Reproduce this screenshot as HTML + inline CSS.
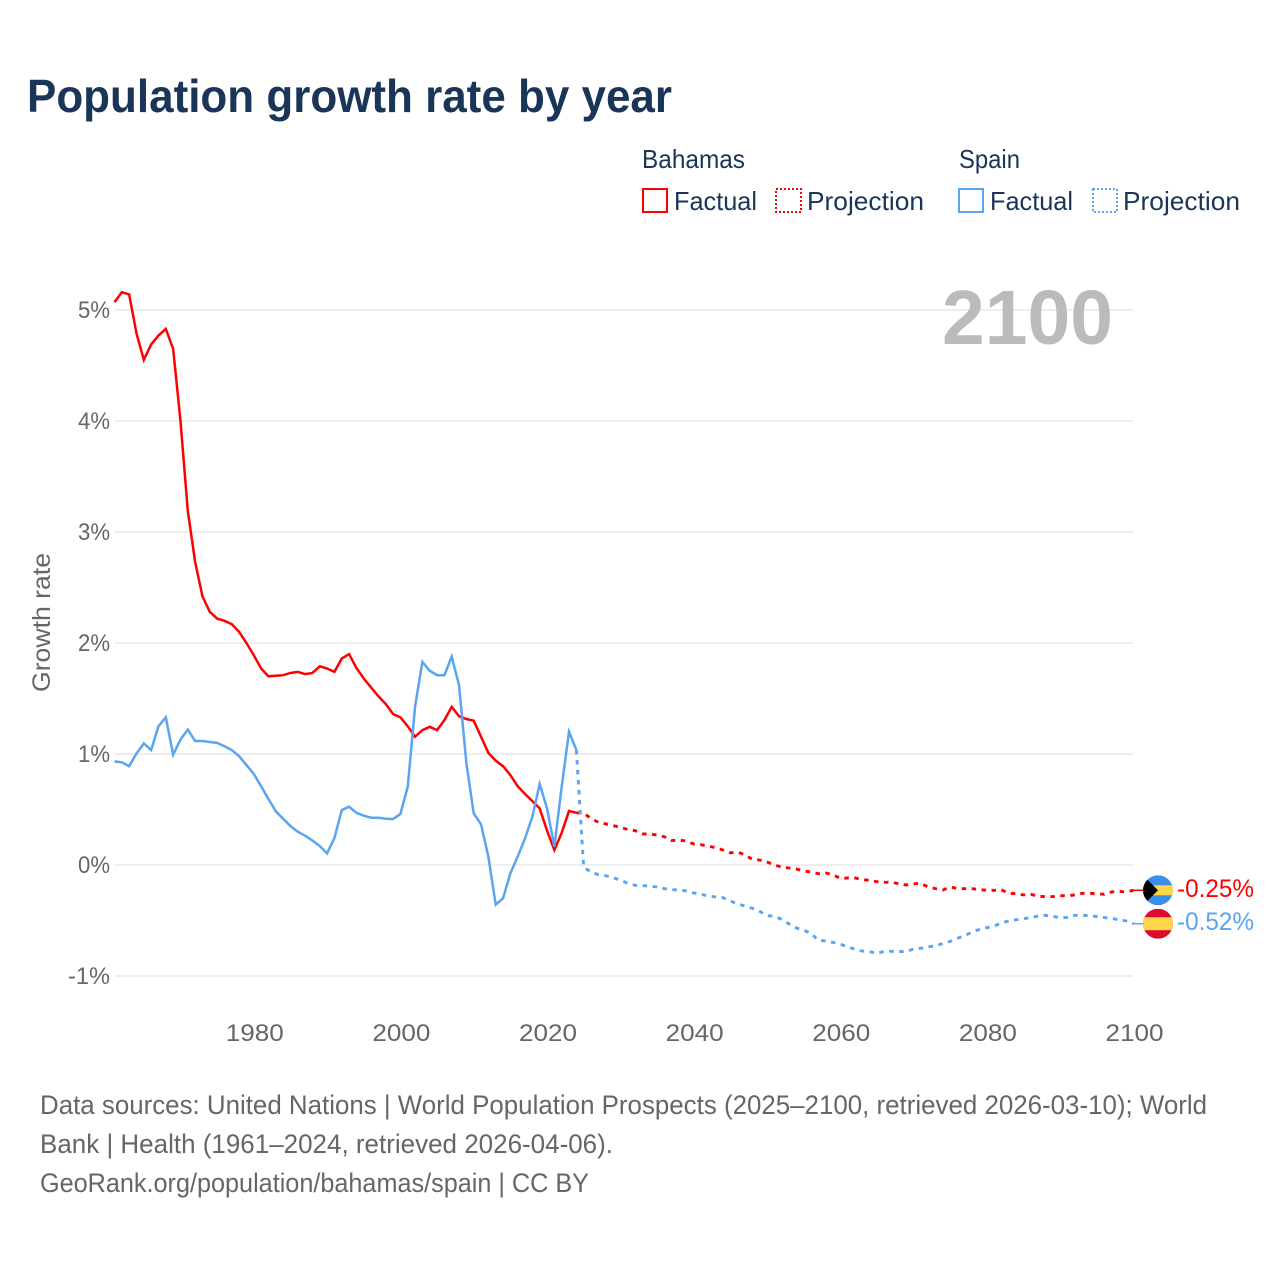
<!DOCTYPE html>
<html lang="en">
<head>
<meta charset="utf-8">
<title>Population growth rate by year</title>
<style>
html,body{margin:0;padding:0;background:#fff;width:1280px;height:1280px;overflow:hidden}
svg{display:block}
text{font-family:"Liberation Sans",sans-serif}
</style>
</head>
<body>
<svg id="chart" width="1280" height="1280" viewBox="0 0 1280 1280" xmlns="http://www.w3.org/2000/svg">
  <rect width="1280" height="1280" fill="#ffffff"/>
  <text x="27" y="112" font-size="46" font-weight="700" fill="#1a3557" textLength="645" lengthAdjust="spacingAndGlyphs">Population growth rate by year</text>

  <g font-size="26" fill="#1a3557">
    <text x="642" y="168" textLength="103" lengthAdjust="spacingAndGlyphs">Bahamas</text>
    <text x="959" y="168" textLength="61" lengthAdjust="spacingAndGlyphs">Spain</text>
    <rect x="643" y="189" width="24" height="23" fill="none" stroke="#ff0000" stroke-width="2"/>
    <text x="674" y="210" textLength="83" lengthAdjust="spacingAndGlyphs">Factual</text>
    <rect x="776" y="189" width="25" height="23" fill="none" stroke="#ff0000" stroke-width="2" stroke-dasharray="2 2"/>
    <text x="807" y="210" textLength="117" lengthAdjust="spacingAndGlyphs">Projection</text>
    <rect x="959" y="189" width="24" height="23" fill="none" stroke="#5ba4ef" stroke-width="2"/>
    <text x="990" y="210" textLength="83" lengthAdjust="spacingAndGlyphs">Factual</text>
    <rect x="1093" y="189" width="24" height="23" fill="none" stroke="#5ba4ef" stroke-width="2" stroke-dasharray="2 2"/>
    <text x="1123" y="210" textLength="117" lengthAdjust="spacingAndGlyphs">Projection</text>
  </g>

  <g id="grid"></g>
  <g id="yAxis"></g>
  <g id="xAxis"></g>
  <text transform="translate(50,692) rotate(-90)" font-size="25" fill="#666666" textLength="139" lengthAdjust="spacingAndGlyphs">Growth rate</text>
  <text x="942" y="344" font-size="77" font-weight="700" fill="#bbbbbb" textLength="171" lengthAdjust="spacingAndGlyphs">2100</text>
  <g id="series"></g>

  <defs>
    <clipPath id="flagClipBahamas"><circle id="clipCircleBahamas" r="15"/></clipPath>
    <clipPath id="flagClipSpain"><circle id="clipCircleSpain" r="15"/></clipPath>
  </defs>
  <g id="flags"></g>

  <g font-size="26.5" fill="#666666">
    <text x="40" y="1114" textLength="1167" lengthAdjust="spacingAndGlyphs">Data sources: United Nations | World Population Prospects (2025–2100, retrieved 2026-03-10); World</text>
    <text x="40" y="1153" textLength="573" lengthAdjust="spacingAndGlyphs">Bank | Health (1961–2024, retrieved 2026-04-06).</text>
    <text x="40" y="1192" textLength="549" lengthAdjust="spacingAndGlyphs">GeoRank.org/population/bahamas/spain | CC BY</text>
  </g>
</svg>

<script>
const factualStartYear = 1961;
const projectionStartYear = 2024;
const yTickValues = [5, 4, 3, 2, 1, 0, -1];
const yTickLabels = ["5%", "4%", "3%", "2%", "1%", "0%", "-1%"];
const xTickYears = [1980, 2000, 2020, 2040, 2060, 2080, 2100];
const endLabels = ["-0.25%", "-0.52%"];

const bahamasFactual = [
  5.07,5.16,5.14,4.79,4.55,4.69,4.77,4.83,4.65,4.0,
  3.19,2.73,2.42,2.28,2.22,2.20,2.17,2.10,2.0,1.89,
  1.77,1.70,1.705,1.71,1.73,1.74,1.72,1.73,1.79,1.77,
  1.74,1.86,1.90,1.775,1.68,1.6,1.52,1.45,1.36,1.33,
  1.25,1.155,1.215,1.245,1.215,1.305,1.425,1.34,1.315,1.30,
  1.155,1.01,0.94,0.89,0.81,0.71,0.64,0.575,0.51,0.31,
  0.135,0.29,0.487,0.47
];
const spainFactual = [
  0.934,0.925,0.89,1.005,1.095,1.036,1.25,1.33,0.994,1.13,
  1.22,1.117,1.117,1.108,1.1,1.07,1.036,0.98,0.9,0.82,
  0.71,0.595,0.484,0.417,0.351,0.30,0.264,0.22,0.171,0.105,
  0.243,0.495,0.525,0.47,0.444,0.426,0.426,0.417,0.414,0.46,
  0.705,1.426,1.83,1.75,1.71,1.71,1.877,1.62,0.916,0.465,
  0.366,0.075,-0.357,-0.30,-0.075,0.075,0.24,0.435,0.73,0.51,
  0.165,0.705,1.2,1.036
];
const bahamasProjection = [
  0.47,0.466,0.42,0.385,0.37,0.355,0.34,0.32,0.31,0.28,0.28,0.27,0.255,0.22,0.225,0.215,
  0.19,0.183,0.17,0.156,0.135,0.11,0.115,0.093,0.05,0.045,0.027,0,-0.018,-0.027,-0.036,
  -0.054,-0.063,-0.078,-0.072,-0.087,-0.12,-0.117,-0.117,-0.132,-0.138,-0.15,-0.155,-0.156,
  -0.168,-0.18,-0.17,-0.165,-0.198,-0.213,-0.225,-0.198,-0.213,-0.213,-0.213,-0.222,-0.228,
  -0.228,-0.225,-0.255,-0.258,-0.27,-0.264,-0.282,-0.285,-0.285,-0.276,-0.276,-0.27,-0.255,
  -0.255,-0.258,-0.264,-0.243,-0.237,-0.243,-0.228
];
const spainProjection = [
  1.036,-0.02,-0.063,-0.087,-0.096,-0.114,-0.135,-0.165,-0.183,-0.186,-0.189,-0.198,-0.213,
  -0.222,-0.225,-0.234,-0.252,-0.264,-0.279,-0.288,-0.294,-0.324,-0.351,-0.369,-0.39,-0.417,
  -0.456,-0.462,-0.489,-0.53,-0.567,-0.588,-0.615,-0.678,-0.684,-0.697,-0.714,-0.736,-0.76,
  -0.775,-0.78,-0.796,-0.778,-0.778,-0.78,-0.78,-0.757,-0.75,-0.736,-0.73,-0.706,-0.688,
  -0.66,-0.637,-0.603,-0.58,-0.565,-0.55,-0.522,-0.504,-0.493,-0.484,-0.474,-0.46,-0.453,
  -0.462,-0.475,-0.472,-0.453,-0.453,-0.456,-0.465,-0.474,-0.48,-0.495,-0.504,-0.529
];

const NS = "http://www.w3.org/2000/svg";
const RED = "#ff0000";
const BLUE = "#5ba4ef";
const xScale = function (year) { return 114.5 + (year - 1961) * (1019 / 139); };
const yScale = function (v) { return 865 - v * 111; };

function make(tag, attrs, parent, text) {
  const el = document.createElementNS(NS, tag);
  for (const k in attrs) el.setAttribute(k, attrs[k]);
  if (text !== undefined) el.textContent = text;
  parent.appendChild(el);
  return el;
}

const gridG = document.getElementById("grid");
const yAxisG = document.getElementById("yAxis");
yTickValues.forEach(function (v, i) {
  const line = make("line", { x1: 115, x2: 1133, y1: yScale(v), y2: yScale(v), stroke: "#eeeeee", "stroke-width": 2 }, gridG);
  
  
  const lab = yTickLabels[i];
  const w = 16 * lab.length - (lab.charAt(0) === "-" ? 6 : 0);
  const t = make("text", { x: 110, y: yScale(v) + 8, "text-anchor": "end", "font-size": 24, fill: "#666666", textLength: w, lengthAdjust: "spacingAndGlyphs" }, yAxisG, lab);
  
  
});

const xAxisG = document.getElementById("xAxis");
xTickYears.forEach(function (yr) {
  const t = make("text", { x: xScale(yr) + 1, y: 1041, "text-anchor": "middle", "font-size": 24, fill: "#666666", textLength: 58, lengthAdjust: "spacingAndGlyphs" }, xAxisG, String(yr));
  
  
});

function pathFrom(values, startYear) {
  return values.map(function (v, i) {
    return (i ? "L" : "M") + xScale(startYear + i).toFixed(2) + " " + yScale(v).toFixed(2);
  }).join(" ");
}

const seriesG = document.getElementById("series");
const factualBahamasLine = make("path", { d: pathFrom(bahamasFactual, factualStartYear), fill: "none", stroke: RED, "stroke-width": 2.5, "stroke-linejoin": "miter" }, seriesG);


const projectionBahamasLine = make("path", { d: pathFrom(bahamasProjection, projectionStartYear), fill: "none", stroke: RED, "stroke-width": 2.9, "stroke-dasharray": "4.5 5.5" }, seriesG);


const factualSpainLine = make("path", { d: pathFrom(spainFactual, factualStartYear), fill: "none", stroke: BLUE, "stroke-width": 2.5, "stroke-linejoin": "miter" }, seriesG);


const projectionSpainLine = make("path", { d: pathFrom(spainProjection, projectionStartYear), fill: "none", stroke: BLUE, "stroke-width": 2.9, "stroke-dasharray": "4.5 5.5" }, seriesG);



const flagsG = document.getElementById("flags");
const cx = 1158;
const endYear = xScale(2100);
const yB = yScale(bahamasProjection[bahamasProjection.length - 1]);
const yS = yScale(spainProjection[spainProjection.length - 1]);

const leaderB = make("line", { x1: endYear, x2: cx, y1: yB, y2: yB, stroke: RED, "stroke-width": 1.5 }, flagsG);


const leaderS = make("line", { x1: endYear, x2: cx, y1: yS, y2: yS, stroke: BLUE, "stroke-width": 1.5 }, flagsG);



document.getElementById("clipCircleBahamas").setAttribute("cx", cx);
document.getElementById("clipCircleBahamas").setAttribute("cy", yB);
document.getElementById("clipCircleSpain").setAttribute("cx", cx);
document.getElementById("clipCircleSpain").setAttribute("cy", yS);

const flagB = make("g", { "clip-path": "url(#flagClipBahamas)" }, flagsG);


make("rect", { x: cx - 15, y: yB - 15, width: 30, height: 30, fill: "#3a8fe8" }, flagB);
make("rect", { x: cx - 15, y: yB - 5, width: 30, height: 10, fill: "#ffd54a" }, flagB);
make("polygon", { points: (cx - 15) + "," + (yB - 15) + " " + cx + "," + yB + " " + (cx - 15) + "," + (yB + 15), fill: "#000000" }, flagB);

const flagS = make("g", { "clip-path": "url(#flagClipSpain)" }, flagsG);


make("rect", { x: cx - 15, y: yS - 15, width: 30, height: 30, fill: "#dd0a2b" }, flagS);
make("rect", { x: cx - 15, y: yS - 6.5, width: 30, height: 13, fill: "#ffd54a" }, flagS);

const labelB = make("text", { x: 1177, y: yB + 6.5, "font-size": 25, fill: RED, textLength: 77, lengthAdjust: "spacingAndGlyphs" }, flagsG, endLabels[0]);


const labelS = make("text", { x: 1177, y: yS + 6.5, "font-size": 25, fill: BLUE, textLength: 77, lengthAdjust: "spacingAndGlyphs" }, flagsG, endLabels[1]);


</script>
</body>
</html>
